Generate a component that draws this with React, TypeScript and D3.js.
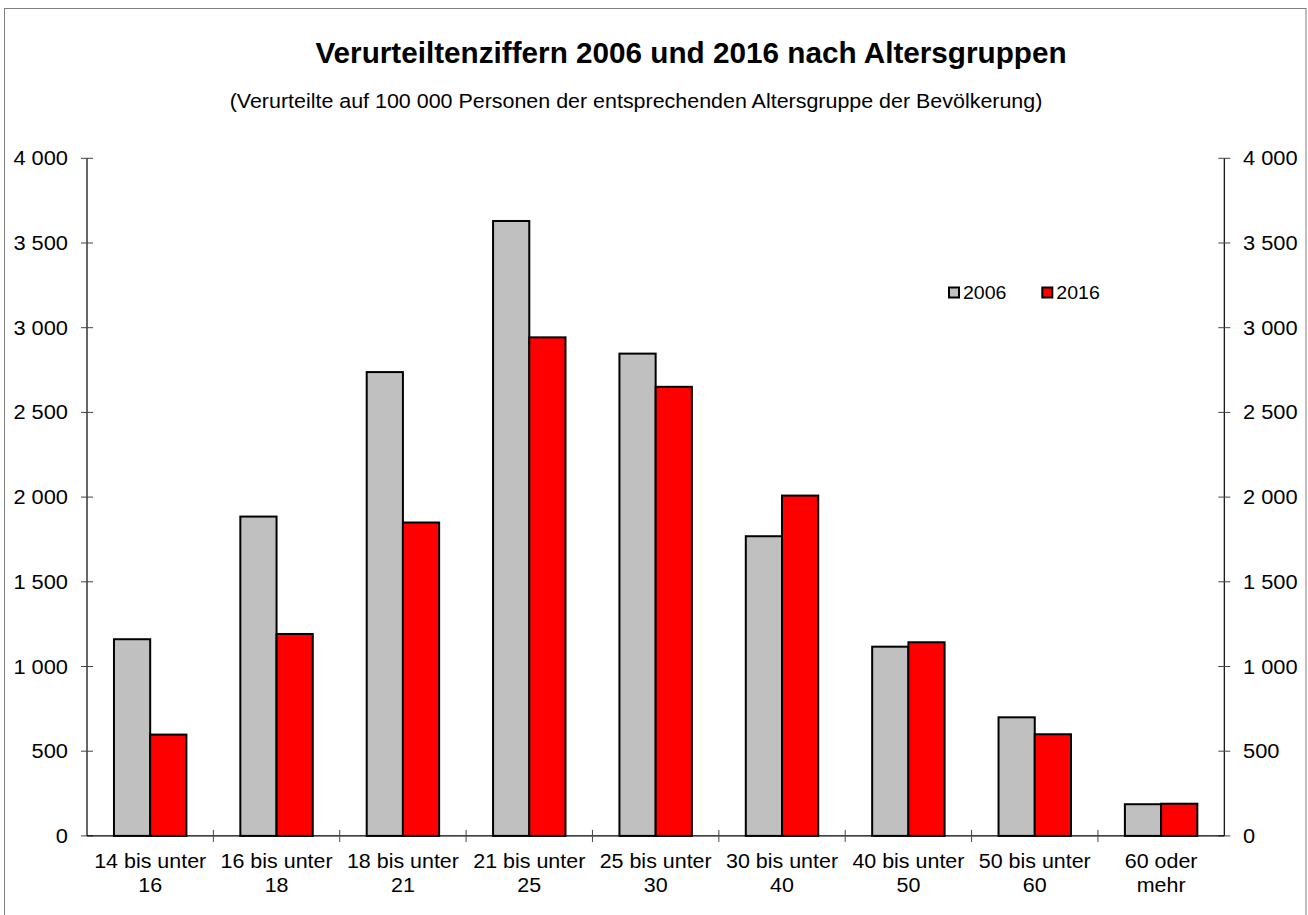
import React from "react";
import * as d3 from "d3";

const categories = [
  ["14 bis unter", "16"],
  ["16 bis unter", "18"],
  ["18 bis unter", "21"],
  ["21 bis unter", "25"],
  ["25 bis unter", "30"],
  ["30 bis unter", "40"],
  ["40 bis unter", "50"],
  ["50 bis unter", "60"],
  ["60 oder", "mehr"],
];
const values2006 = [1161, 1885, 2738, 3630, 2847, 1769, 1117, 700, 187];
const values2016 = [598, 1192, 1850, 2943, 2651, 2009, 1143, 600, 190];
const yTicks = [0, 500, 1000, 1500, 2000, 2500, 3000, 3500, 4000];
const seriesNames = ["2006", "2016"];
const seriesColors = ["#C0C0C0", "#FF0000"];

const W = 1308;
const H = 915;
const FONT = "'Liberation Sans', Arial, Helvetica, sans-serif";

function SText(props: {
  x: number;
  y: number;
  sx: number;
  size: number;
  anchor?: string;
  weight?: string;
  children: React.ReactNode;
}) {
  const { x, y, sx, size, anchor, weight, children } = props;
  return (
    <text
      transform={`translate(${x},${y}) scale(${sx},1)`}
      x={0}
      y={0}
      textAnchor={anchor || "start"}
      fontSize={size}
      fontWeight={weight || "normal"}
      fill="#000"
    >
      {children}
    </text>
  );
}

export default function App() {
  const left = 87;
  const right = 1224.3;
  const top = 158.3;
  const bottom = 835.9;
  const keys = categories.map((c) => c.join(" "));
  const x = d3.scaleBand<string>().domain(keys).range([left, right]).padding(0);
  const y = d3.scaleLinear().domain([0, 4000]).range([bottom, top]);
  const bw = x.bandwidth();
  const barW = bw * 0.2866;
  const fmt = (v: number) => d3.format(",")(v).replace(/,/g, " ");
  const series = [values2006, values2016];

  return (
    <svg
      width={W}
      height={H}
      style={{ position: "absolute", left: 0, top: 0, display: "block", background: "#fff" }}
      fontFamily={FONT}
    >
      <rect x={4.5} y={8.5} width={1301.5} height={920} fill="#fff" stroke="#808080" strokeWidth={1} />
      <SText x={691} y={63} sx={1} size={29.7} anchor="middle" weight="bold">
        Verurteiltenziffern 2006 und 2016 nach Altersgruppen
      </SText>
      <SText x={636} y={108} sx={1.1} size={19.5} anchor="middle">
        (Verurteilte auf 100 000 Personen der entsprechenden Altersgruppe der Bevölkerung)
      </SText>

      {/* bars */}
      {keys.map((k, i) => {
        const cx = (x(k) as number) + bw / 2;
        return (
          <g key={k}>
            {series.map((vals, s) => (
              <rect
                key={s}
                x={cx - barW + s * barW}
                y={y(vals[i])}
                width={barW}
                height={y(0) - y(vals[i])}
                fill={seriesColors[s]}
                stroke="#000"
                strokeWidth={2}
              />
            ))}
          </g>
        );
      })}

      {/* left axis */}
      <line x1={left} x2={left} y1={top} y2={bottom} stroke="#000" strokeWidth={1.2} />
      {yTicks.map((t) => (
        <g key={"l" + t}>
          <line x1={left - 6} x2={left + 6} y1={y(t)} y2={y(t)} stroke="#444" strokeWidth={1} />
          <SText x={68} y={y(t) + 7} sx={1.12} size={19.5} anchor="end">
            {fmt(t)}
          </SText>
        </g>
      ))}
      {/* right axis */}
      <line x1={right} x2={right} y1={top} y2={bottom} stroke="#000" strokeWidth={1.2} />
      {yTicks.map((t) => (
        <g key={"r" + t}>
          <line x1={right - 6} x2={right + 6} y1={y(t)} y2={y(t)} stroke="#444" strokeWidth={1} />
          <SText x={1243} y={y(t) + 7} sx={1.12} size={19.5} anchor="start">
            {fmt(t)}
          </SText>
        </g>
      ))}
      {/* x axis */}
      <line x1={left} x2={right} y1={bottom} y2={bottom} stroke="#000" strokeWidth={1.2} />
      {keys.map((k, i) =>
        i === 0 ? null : (
          <line
            key={"xt" + k}
            x1={x(k) as number}
            x2={x(k) as number}
            y1={bottom - 6}
            y2={bottom + 6}
            stroke="#444"
            strokeWidth={1}
          />
        )
      )}
      {categories.map((c, i) => {
        const cx = (x(keys[i]) as number) + bw / 2;
        return (
          <g key={"xl" + i}>
            <SText x={cx} y={868} sx={1.1} size={19.5} anchor="middle">
              {c[0]}
            </SText>
            <SText x={cx} y={892} sx={1.1} size={19.5} anchor="middle">
              {c[1]}
            </SText>
          </g>
        );
      })}

      {/* legend */}
      {seriesNames.map((n, s) => {
        const lx = 949 + s * 93.3;
        return (
          <g key={n}>
            <rect x={lx} y={287.5} width={10} height={10} fill={seriesColors[s]} stroke="#000" strokeWidth={2} />
            <SText x={lx + 14} y={298.5} sx={1.03} size={19}>
              {n}
            </SText>
          </g>
        );
      })}
    </svg>
  );
}
